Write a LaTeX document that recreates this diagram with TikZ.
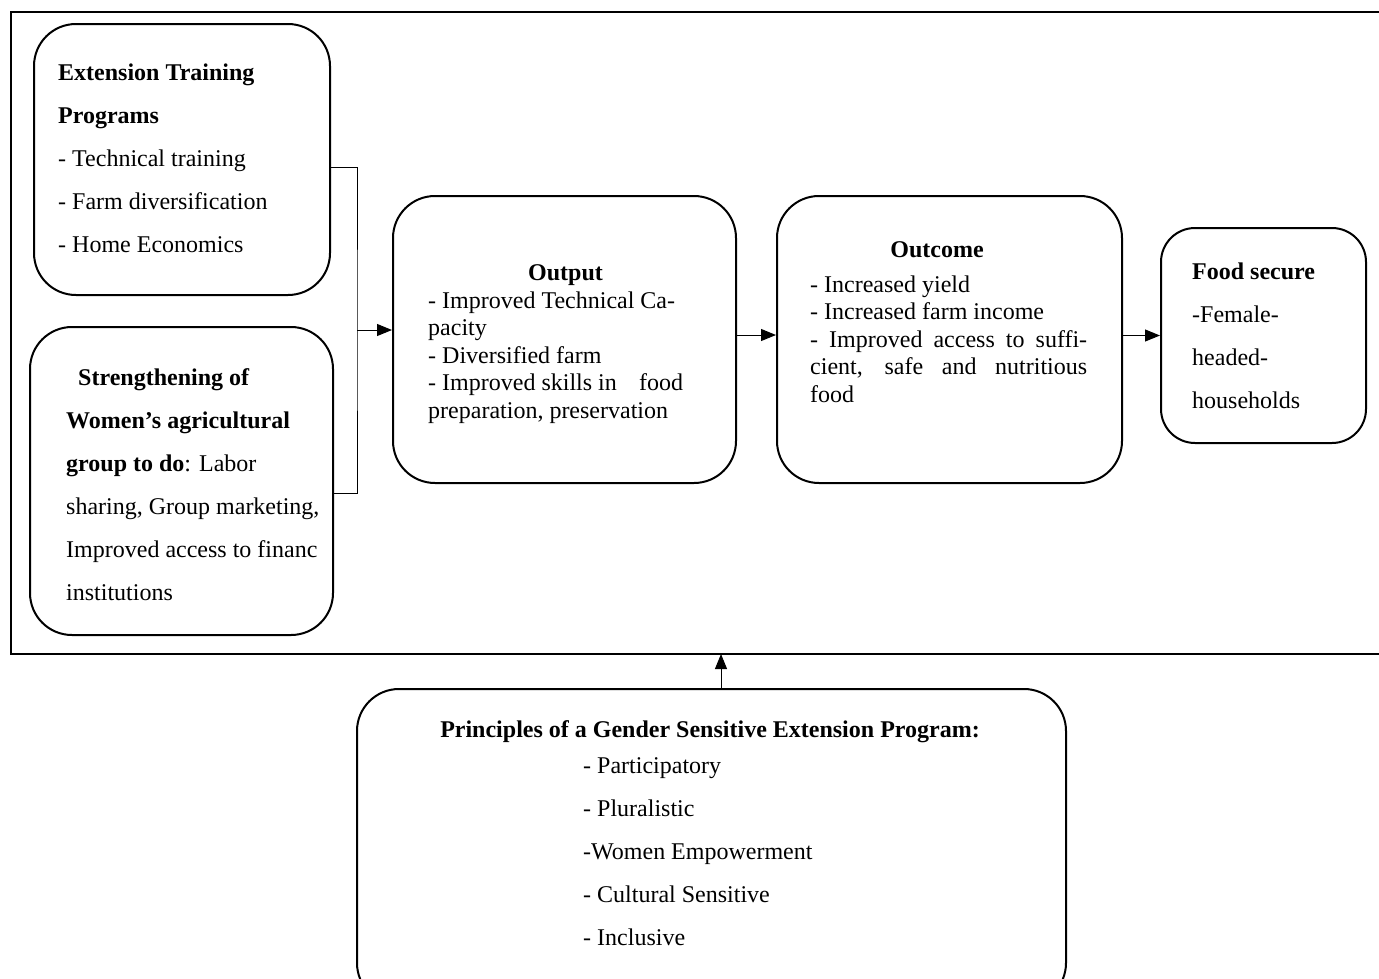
\documentclass[tikz,border=0pt]{standalone}
\usepackage{fontspec}
\setmainfont{Liberation Serif}
\usetikzlibrary{arrows.meta}
\begin{document}
\begin{tikzpicture}[x=1pt,y=-1pt,
  box/.style={draw, line width=2pt, rounded corners=42pt, inner sep=0pt},
  smallbox/.style={draw, line width=2pt, rounded corners=34pt, inner sep=0pt},
  arr/.style={line width=1pt, -{Triangle[length=15pt,width=12pt]}},
  conn/.style={line width=1pt},
  wide/.style={font=\fontsize{24}{43}\selectfont, align=left, anchor=base west, inner sep=0pt},
  tight/.style={font=\fontsize{24}{27.5}\selectfont, align=left, anchor=base west, inner sep=0pt},
  title/.style={font=\fontsize{24}{27.5}\selectfont\bfseries, anchor=base, inner sep=0pt}]
\useasboundingbox (0,0) rectangle (1379,978);
\clip (0,0) rectangle (1379,978);
\draw[line width=2.5pt] (1400,12) -- (11,12) -- (11,654) -- (1400,654);

% boxes
\node[box, minimum width=296pt, minimum height=271pt] (ext) at (182,159.5) {};
\node[box, minimum width=303pt, minimum height=308pt] (str) at (181.5,481) {};
\node[box, minimum width=343pt, minimum height=287pt] (out) at (564.5,339.5) {};
\node[box, minimum width=345pt, minimum height=287pt] (outc) at (949.5,339.5) {};
\node[smallbox, minimum width=205pt, minimum height=215pt] (food) at (1263.5,335.5) {};
\node[box, minimum width=709pt, minimum height=316pt] (prin) at (711.5,847) {};

% connectors
\coordinate (jn) at (357,330);
\coordinate (fb) at (721,654);
\draw[conn] ([yshift=-7.5pt]ext.east) -| (jn) |- ([yshift=-12pt]str.east);
\draw[arr] (jn) -- (jn -| out.west);
\draw[arr] ([yshift=4.5pt]out.east) -- ([yshift=4.5pt]outc.west);
\draw[arr] (outc.east |- food.west) -- (food.west);
\draw[arr] (prin.north -| fb) -- (fb);

% texts (anchor base = baseline of the last line)
\node[wide] (extT) at (58,252) {\textbf{Extension Training}\\\textbf{Programs}\\- Technical training\\- Farm diversification\\- Home Economics};
\node[wide] (strT) at (66,600) {\hspace*{12pt}\textbf{Strengthening of}\\\textbf{Women’s agricultural}\\\textbf{group to do}: Labor\\sharing, Group marketing,\\Improved access to financ\\institutions};
\node[title] (outH) at (565.5,280) {Output};
\node[tight] (outT) at (428,418) {- Improved Technical Ca-\\pacity\\- Diversified farm\\\makebox[255pt][l]{- Improved skills in\hfill food}\\preparation, preservation};
\node[title] (outcH) at (937,257) {Outcome};
\node[tight] (outcT) at (810,402) {- Increased yield\\- Increased farm income\\\makebox[277pt][s]{- Improved access to suffi-}\\\makebox[277pt][s]{cient, safe and nutritious}\\food};
\node[wide] (foodT) at (1192,408) {\textbf{Food secure}\\-Female-\\headed-\\households};
\node[title] (prinH) at (710,737) {Principles of a Gender Sensitive Extension Program:};
\node[wide] (prinT) at (583,945) {- Participatory\\- Pluralistic\\-Women Empowerment\\- Cultural Sensitive\\- Inclusive};
\end{tikzpicture}
\end{document}
